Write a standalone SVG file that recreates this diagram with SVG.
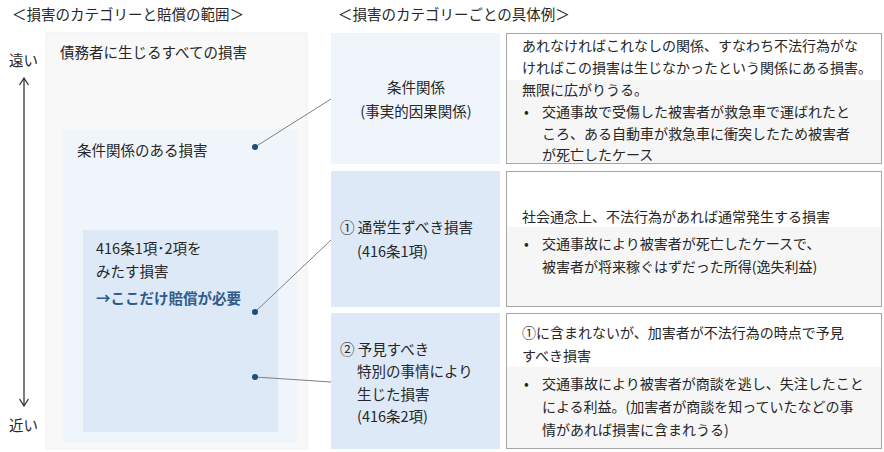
<svg xmlns="http://www.w3.org/2000/svg" width="884" height="452" viewBox="0 0 884 452">
<style>
text{font-family:"Noto Sans CJK JP","Noto Sans",sans-serif;font-size:14px;fill:#262626}
.lg{font-size:14.5px}
.cat{fill:#dde9f6}
.desc{fill:#ffffff;stroke:#a6a6a6;stroke-width:1}
.shade{fill:#f6f6f6}
.dot{fill:#1f4e79}
.conn{stroke:#808080;stroke-width:1;fill:none}
.em{font-weight:bold;fill:#2f5a8c}
.head{fill:none;stroke:#262626;stroke-width:1.2}
</style>
<rect width="884" height="452" fill="#ffffff"/>

<g id="title-left"><text class="lg" x="12" y="20">＜損害のカテゴリーと賠償の範囲＞</text></g>
<g id="title-right"><text class="lg" x="338" y="20">＜損害のカテゴリーごとの具体例＞</text></g>

<g id="scale-axis">
<line x1="24" y1="78" x2="24" y2="406" stroke="#262626" stroke-width="1.2"/>
<polyline class="head" points="19.5,85 24,78 28.5,85"/>
<polyline class="head" points="19.5,399 24,406 28.5,399"/>
<text class="lg" x="9" y="66">遠い</text>
<text class="lg" x="9" y="431">近い</text>
</g>

<g id="all-damage">
<rect x="46" y="33" width="261" height="416" fill="#f8f8f8" stroke="#f0f0f0"/>
<text class="lg" x="60" y="58">債務者に生じるすべての損害</text>
</g>
<g id="conditional-damage">
<rect x="63" y="129" width="234" height="314" fill="#f0f5fb"/>
<text class="lg" x="77" y="156">条件関係のある損害</text>
</g>
<g id="compensable-damage">
<rect x="83" y="230" width="195" height="202" fill="#dde9f6"/>
<text class="lg" x="96" y="254">416条1項･2項を</text>
<text class="lg" x="96" y="277">みたす損害</text>
<text class="lg em" x="96" y="304">→ここだけ賠償が必要</text>
</g>

<g id="connectors">
<line class="conn" x1="255" y1="147" x2="331" y2="99"/>
<line class="conn" x1="255" y1="312" x2="331" y2="240"/>
<line class="conn" x1="255" y1="377" x2="331" y2="382"/>
<circle class="dot" cx="255" cy="147" r="3"/>
<circle class="dot" cx="255" cy="312" r="3"/>
<circle class="dot" cx="255" cy="377" r="3"/>
</g>

<g id="cat-conditional">
<rect x="331" y="33" width="169" height="131" fill="#f0f5fb"/>
<text class="lg" x="416" y="93" text-anchor="middle">条件関係</text>
<text class="lg" x="416" y="117" text-anchor="middle">(事実的因果関係)</text>
</g>
<g id="desc-conditional">
<rect x="506.5" y="33.5" width="375" height="130" class="desc"/>
<rect x="507" y="80" width="374" height="83" class="shade"/>
<text x="522" y="51">あれなければこれなしの関係、すなわち不法行為がな</text>
<text x="522" y="73">ければこの損害は生じなかったという関係にある損害。</text>
<text x="522" y="95">無限に広がりうる。</text>
<text x="524" y="117">•</text>
<text x="542" y="117">交通事故で受傷した被害者が救急車で運ばれたと</text>
<text x="542" y="139">ころ、ある自動車が救急車に衝突したため被害者</text>
<text x="542" y="160">が死亡したケース</text>
</g>

<g id="cat-ordinary">
<rect x="331" y="171" width="169" height="136" class="cat"/>
<text class="lg" x="340" y="233">① 通常生ずべき損害</text>
<text class="lg" x="357" y="257">(416条1項)</text>
</g>
<g id="desc-ordinary">
<rect x="506.5" y="171.5" width="375" height="135" class="desc"/>
<rect x="507" y="227" width="374" height="79" class="shade"/>
<text x="522" y="222">社会通念上、不法行為があれば通常発生する損害</text>
<text x="524" y="249">•</text>
<text x="542" y="249">交通事故により被害者が死亡したケースで、</text>
<text x="542" y="272">被害者が将来稼ぐはずだった所得(逸失利益)</text>
</g>

<g id="cat-special">
<rect x="331" y="313" width="169" height="136" class="cat"/>
<text class="lg" x="340" y="355">② 予見すべき</text>
<text class="lg" x="357" y="377">特別の事情により</text>
<text class="lg" x="357" y="400">生じた損害</text>
<text class="lg" x="357" y="422">(416条2項)</text>
</g>
<g id="desc-special">
<rect x="506.5" y="313.5" width="375" height="135" class="desc"/>
<rect x="507" y="367" width="374" height="81" class="shade"/>
<text x="522" y="338">①に含まれないが、加害者が不法行為の時点で予見</text>
<text x="522" y="361">すべき損害</text>
<text x="524" y="389">•</text>
<text x="542" y="389">交通事故により被害者が商談を逃し、失注したこと</text>
<text x="542" y="412">による利益。(加害者が商談を知っていたなどの事</text>
<text x="542" y="435">情があれば損害に含まれうる)</text>
</g>
</svg>
